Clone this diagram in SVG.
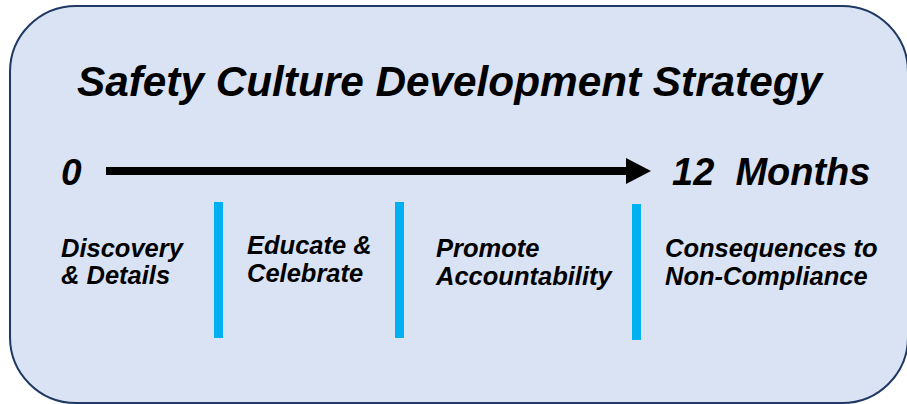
<svg xmlns="http://www.w3.org/2000/svg" width="907" height="404" viewBox="0 0 907 404">
<style>
text{font-family:"Liberation Sans",Arial,sans-serif;font-weight:bold;font-style:italic;fill:#000}
.lbl{font-size:25.5px}
.bar{fill:#00b0f0}
</style>
<g id="background">
<rect x="10" y="6" width="898" height="397" rx="66" ry="66" fill="#dae3f3" stroke="#1f3864" stroke-width="2"/>
</g>
<g id="title"><text x="77" y="96" font-size="42.3">Safety Culture Development Strategy</text></g>
<g id="start"><text x="61" y="185" font-size="37">0</text></g>
<g id="end"><text x="672" y="185" font-size="38" xml:space="preserve">12  Months</text></g>
<g id="connectors">
<rect x="106" y="167" width="523" height="8" fill="#000"/>
<polygon points="626,158 651,171 626,184" fill="#000"/>
</g>
<g id="dividers">
<rect class="bar" x="214" y="202" width="9" height="136"/>
<rect class="bar" x="395" y="202" width="9" height="136"/>
<rect class="bar" x="632" y="204" width="9" height="136"/>
</g>
<g id="phase1"><text class="lbl" x="61" y="257">Discovery</text><text class="lbl" x="61" y="284">&amp; Details</text></g>
<g id="phase2"><text class="lbl" x="247" y="254">Educate &amp;</text><text class="lbl" x="247" y="282">Celebrate</text></g>
<g id="phase3"><text class="lbl" x="436" y="257">Promote</text><text class="lbl" x="436" y="285">Accountability</text></g>
<g id="phase4"><text class="lbl" x="665" y="257">Consequences to</text><text class="lbl" x="665" y="285">Non-Compliance</text></g>
</svg>
